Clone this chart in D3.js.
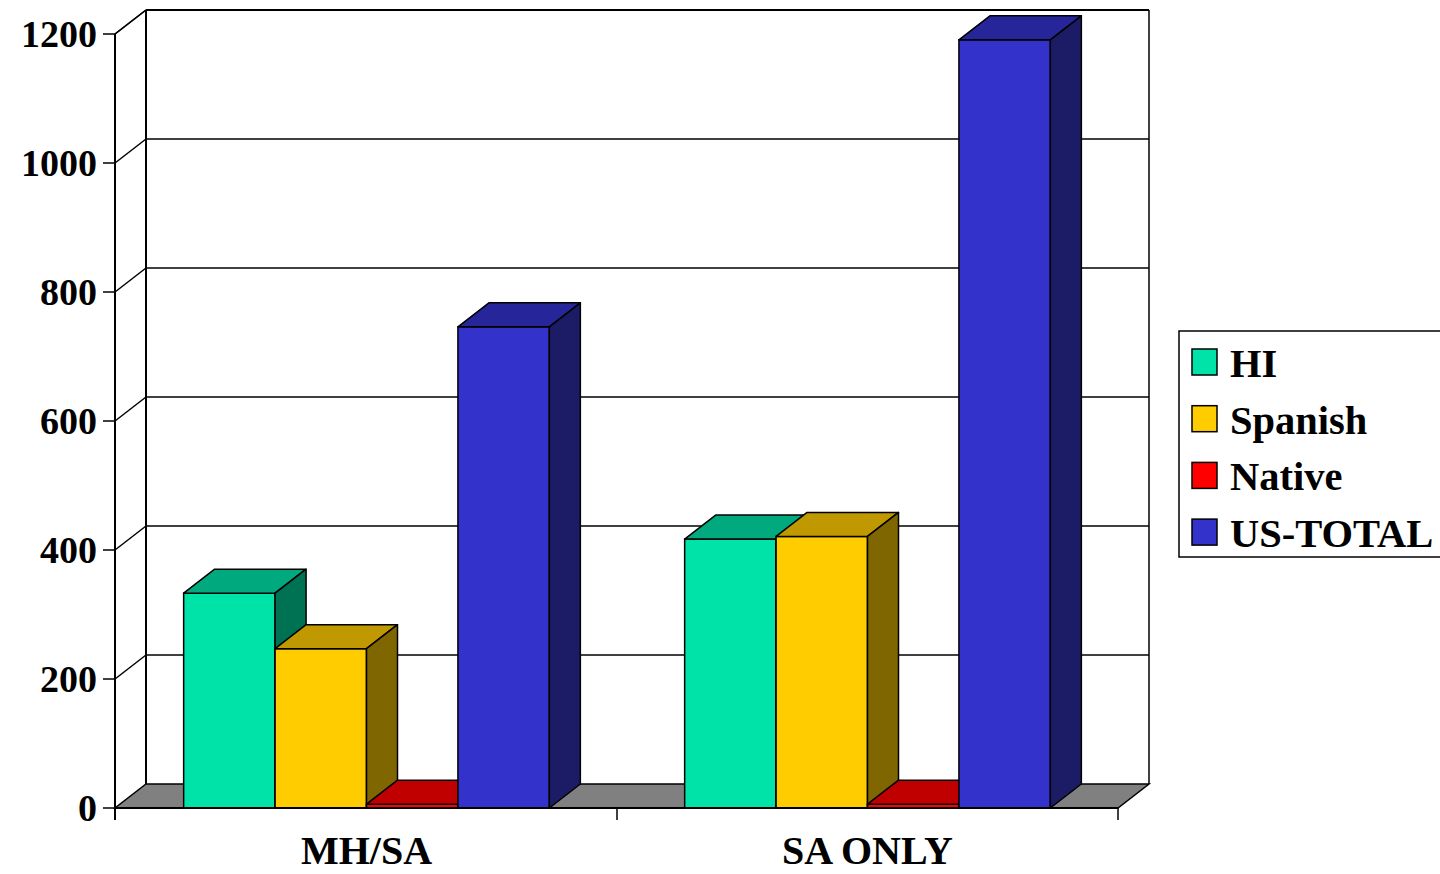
<!DOCTYPE html>
<html>
<head>
<meta charset="utf-8">
<script src="https://cdn.jsdelivr.net/npm/d3@7"></script>
<style>
  html, body { margin: 0; padding: 0; background: #fff; }
  svg text { font-family: "Liberation Serif", "Times New Roman", serif; font-weight: bold; fill: #000; }
</style>
</head>
<body>
<div id="chart"></div>
<script>
(function() {
  "use strict";

  // Chart data
  var categories = ['MH/SA', 'SA ONLY'];
  var seriesNames = ['HI', 'Spanish', 'Native', 'US-TOTAL'];
  var hiValues = [333, 417];
  var spanishValues = [247, 421];
  var nativeValues = [6, 6];
  var usTotalValues = [746, 1191];
  var yTicks = [0, 200, 400, 600, 800, 1000, 1200];

  var seriesValues = [hiValues, spanishValues, nativeValues, usTotalValues];

  // front / top / side shades per series
  var faceColors = [
    { front: '#00E3A8', top: '#00AA7E', side: '#007254' },
    { front: '#FFCC00', top: '#C09900', side: '#806600' },
    { front: '#FF0000', top: '#C00000', side: '#800000' },
    { front: '#3333CC', top: '#26269A', side: '#1C1C66' }
  ];

  var DEPTH_X = 31;
  var DEPTH_Y = 24;

  var svg = d3.select('#chart')
      .append('svg')
      .attr('width', 1440)
      .attr('height', 874);

  var y = d3.scaleLinear().domain([0, 1200]).range([808, 34]);

  var x0 = d3.scaleBand()
      .domain(categories)
      .range([116, 1118]);

  var x1 = d3.scaleBand()
      .domain(seriesNames)
      .range([0, x0.bandwidth()])
      .paddingOuter(0.74);

  var left = x0.range()[0] - 1;
  var right = x0.range()[1];

  /**
   * Builds a points string for a polygon.
   */
  function pts(list) {
    return list.map(function(p) { return p[0] + ',' + p[1]; }).join(' ');
  }

  // Back wall gridlines
  yTicks.forEach(function(t) {
    if (t === 0) { return; }
    svg.append('line')
      .attr('x1', left + DEPTH_X).attr('y1', y(t) - DEPTH_Y)
      .attr('x2', right + DEPTH_X).attr('y2', y(t) - DEPTH_Y)
      .attr('stroke', '#000').attr('stroke-width', 1.5);
    // side wall diagonal
    svg.append('line')
      .attr('x1', left).attr('y1', y(t))
      .attr('x2', left + DEPTH_X).attr('y2', y(t) - DEPTH_Y)
      .attr('stroke', '#000').attr('stroke-width', 1.5);
  });

  // Back wall edges
  svg.append('line')
    .attr('x1', left + DEPTH_X).attr('y1', y(1200) - DEPTH_Y)
    .attr('x2', left + DEPTH_X).attr('y2', y(0) - DEPTH_Y)
    .attr('stroke', '#000').attr('stroke-width', 2);
  svg.append('line')
    .attr('x1', right + DEPTH_X).attr('y1', y(1200) - DEPTH_Y)
    .attr('x2', right + DEPTH_X).attr('y2', y(0) - DEPTH_Y)
    .attr('stroke', '#000').attr('stroke-width', 1.5);

  // Floor
  svg.append('polygon')
    .attr('points', pts([
      [left, y(0)], [right, y(0)],
      [right + DEPTH_X, y(0) - DEPTH_Y], [left + DEPTH_X, y(0) - DEPTH_Y]
    ]))
    .attr('fill', '#808080')
    .attr('stroke', '#000')
    .attr('stroke-width', 1.5);

  // Bars, left to right so each front face covers the previous side face
  categories.forEach(function(cat, ci) {
    seriesNames.forEach(function(name, si) {
      var v = seriesValues[si][ci];
      var bx = x0(cat) + x1(name);
      var bw = x1.bandwidth();
      var top = y(v);
      var base = y(0);
      var c = faceColors[si];
      var g = svg.append('g');

      g.append('rect')
        .attr('x', bx).attr('y', top)
        .attr('width', bw).attr('height', base - top)
        .attr('fill', c.front)
        .attr('stroke', '#000').attr('stroke-width', 1.5);

      g.append('polygon')
        .attr('points', pts([
          [bx, top], [bx + bw, top],
          [bx + bw + DEPTH_X, top - DEPTH_Y], [bx + DEPTH_X, top - DEPTH_Y]
        ]))
        .attr('fill', c.top)
        .attr('stroke', '#000').attr('stroke-width', 1.5)
        .attr('stroke-linejoin', 'round');

      g.append('polygon')
        .attr('points', pts([
          [bx + bw, top], [bx + bw + DEPTH_X, top - DEPTH_Y],
          [bx + bw + DEPTH_X, base - DEPTH_Y], [bx + bw, base]
        ]))
        .attr('fill', c.side)
        .attr('stroke', '#000').attr('stroke-width', 1.5)
        .attr('stroke-linejoin', 'round');
    });
  });

  // Front value axis
  svg.append('line')
    .attr('x1', left).attr('y1', y(1200))
    .attr('x2', left).attr('y2', y(0) + 12)
    .attr('stroke', '#000').attr('stroke-width', 2);
  svg.append('line')
    .attr('x1', left).attr('y1', y(1200))
    .attr('x2', left + DEPTH_X).attr('y2', y(1200) - DEPTH_Y)
    .attr('stroke', '#000').attr('stroke-width', 1.5);
  svg.append('line')
    .attr('x1', left + DEPTH_X).attr('y1', y(1200) - DEPTH_Y)
    .attr('x2', right + DEPTH_X).attr('y2', y(1200) - DEPTH_Y)
    .attr('stroke', '#000').attr('stroke-width', 2);

  yTicks.forEach(function(t) {
    svg.append('line')
      .attr('x1', left - 12).attr('y1', y(t))
      .attr('x2', left).attr('y2', y(t))
      .attr('stroke', '#000').attr('stroke-width', 1.5);
    svg.append('text')
      .attr('x', left - 18)
      .attr('y', y(t) + 13)
      .attr('text-anchor', 'end')
      .attr('font-size', 38)
      .text(t);
  });

  // Category axis
  svg.append('line')
    .attr('x1', left).attr('y1', y(0))
    .attr('x2', right).attr('y2', y(0))
    .attr('stroke', '#000').attr('stroke-width', 2);

  categories.forEach(function(cat) {
    var edge = x0(cat) + x0.bandwidth();
    svg.append('line')
      .attr('x1', edge).attr('y1', y(0))
      .attr('x2', edge).attr('y2', y(0) + 12)
      .attr('stroke', '#000').attr('stroke-width', 1.5);
    svg.append('text')
      .attr('x', x0(cat) + x0.bandwidth() / 2)
      .attr('y', 864)
      .attr('text-anchor', 'middle')
      .attr('font-size', 40)
      .text(cat);
  });

  // Legend
  var legend = svg.append('g').attr('transform', 'translate(1179,331)');
  legend.append('rect')
    .attr('x', 0).attr('y', 0)
    .attr('width', 280).attr('height', 226)
    .attr('fill', '#fff')
    .attr('stroke', '#000').attr('stroke-width', 1.5);

  seriesNames.forEach(function(name, i) {
    var ly = 18 + i * 56.7;
    legend.append('rect')
      .attr('x', 13).attr('y', ly)
      .attr('width', 25).attr('height', 26)
      .attr('fill', faceColors[i].front)
      .attr('stroke', '#000').attr('stroke-width', 1.5);
    legend.append('text')
      .attr('x', 51)
      .attr('y', ly + 28)
      .attr('font-size', 40.5)
      .text(name);
  });
})();
</script>
</body>
</html>
